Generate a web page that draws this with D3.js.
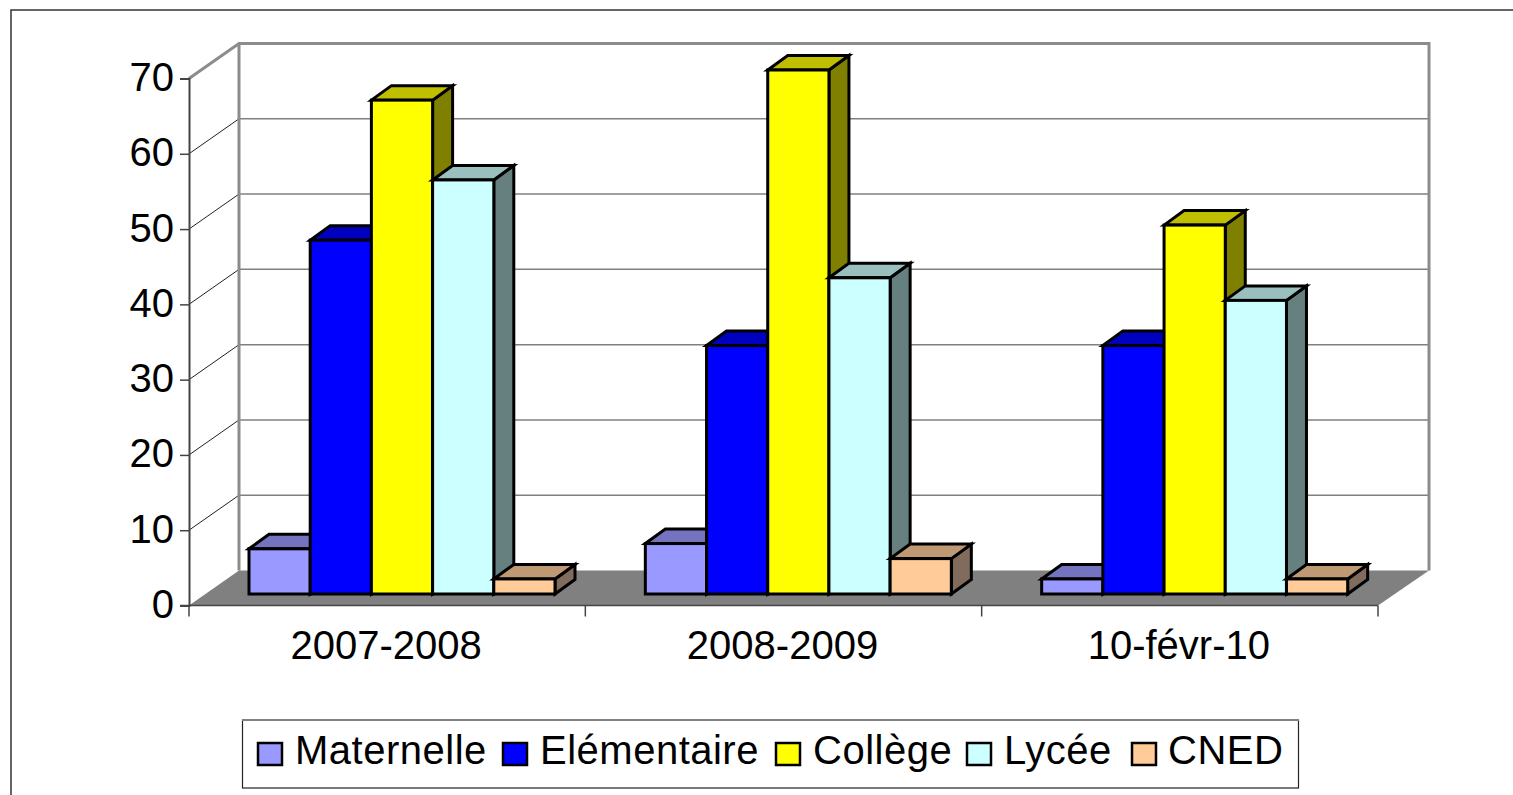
<!DOCTYPE html>
<html><head><meta charset="utf-8">
<script src="https://cdnjs.cloudflare.com/ajax/libs/d3/7.8.5/d3.min.js"></script>
<style>html,body{margin:0;padding:0;background:#fff;overflow:hidden}svg{display:block}text{font-family:"Liberation Sans",Arial,sans-serif;fill:#000}</style>
</head><body>
<svg id="c" width="1513" height="795"></svg>
<script>
const categories = ["2007-2008", "2008-2009", "10-févr-10"];
const seriesNames = ["Maternelle", "Elémentaire", "Collège", "Lycée", "CNED"];
const maternelle = [6, 6.7, 2];
const elementaire = [47, 33, 33];
const college = [65.6, 69.6, 49];
const lycee = [55, 42, 39];
const cned = [2, 4.7, 2];
const seriesValues = [maternelle, elementaire, college, lycee, cned];
const yTicks = [0, 10, 20, 30, 40, 50, 60, 70];
const fronts = ["#9999FF", "#0000FF", "#FFFF00", "#CCFFFF", "#FFCC99"];
const tops = ["#7373BF", "#0000BF", "#BFBF00", "#99BFBF", "#BF9973"];
const sides = ["#5C5C99", "#000099", "#808000", "#668080", "#806B5C"];
const legendSwatchX = [258, 503, 776, 967, 1132];
const legendTextX = [295, 540, 813, 1004, 1168];

const svg = d3.select("#c");
const y = d3.scaleLinear().domain([0, 70]).range([605.5, 78.5]);
const x = d3.scaleBand().domain(categories).range([189, 1378]);
const inner = d3.scaleBand().domain(seriesNames).range([60, 366]);
const wallD = {x: 50, y: -35};
const barD = {x: 20, y: -14.5};
const barBase = -11.5; // bars stand on floor, set back from the front edge

// Outer frame (runs off the picture at right and bottom)
svg.append("rect").attr("x", 11).attr("y", 10).attr("width", 1600).attr("height", 900)
  .attr("fill", "#fff").attr("stroke", "#333").attr("stroke-width", 1.5);

// Walls
const gridG = svg.append("g");
gridG.selectAll("line.back").data(yTicks.slice(1, -1)).join("line")
  .attr("x1", wallD.x + 189).attr("x2", wallD.x + 1379)
  .attr("y1", d => y(d) + wallD.y).attr("y2", d => y(d) + wallD.y)
  .attr("stroke", "#808080").attr("stroke-width", 1.5);
gridG.selectAll("line.side").data(yTicks.slice(1, -1)).join("line")
  .attr("x1", 189).attr("x2", 189 + wallD.x)
  .attr("y1", d => y(d)).attr("y2", d => y(d) + wallD.y)
  .attr("stroke", "#222").attr("stroke-width", 1);

// Floor
svg.append("polygon")
  .attr("points", [[189, y(0)], [189 + wallD.x, y(0) + wallD.y], [1379 + wallD.x, y(0) + wallD.y], [1378, y(0)]].join(" "))
  .attr("fill", "#808080");

// Wall outline
svg.append("path")
  .attr("d", `M189,${y(70)}L${189 + wallD.x},${y(70) + wallD.y}H${1379 + wallD.x}V${y(0) + wallD.y}M${189 + wallD.x},${y(70) + wallD.y}V${y(0) + wallD.y}`)
  .attr("fill", "none").attr("stroke", "#8c8c8c").attr("stroke-width", 3);

// Bars
const barsG = svg.append("g").attr("stroke", "#000").attr("stroke-width", 3).attr("stroke-linejoin", "miter");
categories.forEach((cat, ci) => {
  seriesNames.forEach((name, si) => {
    const v = seriesValues[si][ci];
    const x0 = x(cat) + inner(name), w = inner.bandwidth();
    const yt = y(v) + barBase, yb = y(0) + barBase;
    const g = barsG.append("g");
    g.append("polygon").attr("fill", sides[si])
      .attr("points", [[x0 + w, yt], [x0 + w + barD.x, yt + barD.y], [x0 + w + barD.x, yb + barD.y], [x0 + w, yb]].join(" "));
    g.append("polygon").attr("fill", tops[si])
      .attr("points", [[x0, yt], [x0 + barD.x, yt + barD.y], [x0 + w + barD.x, yt + barD.y], [x0 + w, yt]].join(" "));
    g.append("rect").attr("x", x0).attr("y", yt).attr("width", w).attr("height", yb - yt).attr("fill", fronts[si]);
  });
});

// Y axis
const yAxis = d3.axisLeft(y).tickValues(yTicks).tickSize(9).tickPadding(6);
const yG = svg.append("g").attr("transform", "translate(189,0)").call(yAxis);
yG.select(".domain").attr("stroke", "#444").attr("stroke-width", 2);
yG.selectAll(".tick line").attr("stroke", "#444").attr("stroke-width", 1.5);
yG.selectAll("text").attr("font-size", 40).attr("dy", "0.3em")
  .attr("font-family", '"Liberation Sans",Arial,sans-serif').attr("fill", "#000");

// X axis
svg.append("line").attr("x1", 180).attr("x2", 1378).attr("y1", y(0)).attr("y2", y(0)).attr("stroke", "#444").attr("stroke-width", 1.5);
const xTicks = [...categories.map(c => x(c)), 1378];
svg.selectAll("line.xt").data(xTicks).join("line")
  .attr("x1", d => d).attr("x2", d => d).attr("y1", y(0)).attr("y2", y(0) + 11)
  .attr("stroke", "#444").attr("stroke-width", 1.5);
svg.selectAll("text.xl").data(categories).join("text")
  .attr("x", d => x(d) + x.bandwidth() / 2 - 1).attr("y", 659).attr("text-anchor", "middle")
  .attr("font-size", 40).text(d => d);

// Legend
svg.append("rect").attr("x", 242.5).attr("y", 720).attr("width", 1056).attr("height", 68)
  .attr("fill", "#fff").attr("stroke", "#222").attr("stroke-width", 1.2);
svg.append("line").attr("x1", 242).attr("x2", 1299).attr("y1", 720).attr("y2", 720)
  .attr("stroke", "#808080").attr("stroke-width", 2);
svg.selectAll("rect.sw").data(seriesNames).join("rect")
  .attr("x", (d, i) => legendSwatchX[i]).attr("y", 743).attr("width", 24).attr("height", 22)
  .attr("fill", (d, i) => fronts[i]).attr("stroke", "#000").attr("stroke-width", 2.5);
svg.selectAll("text.lg").data(seriesNames).join("text")
  .attr("x", (d, i) => legendTextX[i]).attr("y", 764).attr("font-size", 40)
  .attr("letter-spacing", 0.5).text(d => d);
</script>
</body></html>
